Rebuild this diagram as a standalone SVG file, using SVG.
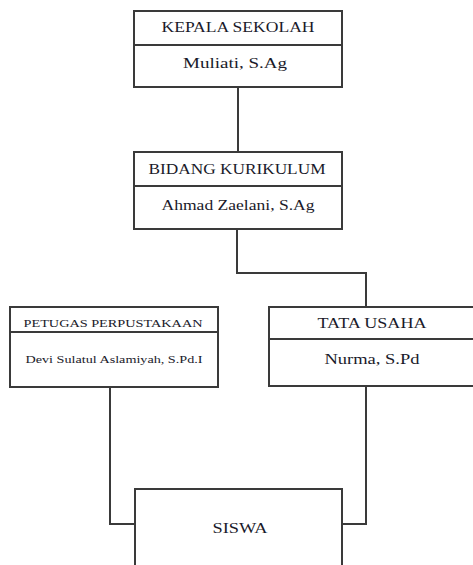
<svg xmlns="http://www.w3.org/2000/svg" width="473" height="565" viewBox="0 0 473 565">
  <style>
    .box { fill: #ffffff; stroke: #3a3a3a; stroke-width: 2; }
    .div { stroke: #3a3a3a; stroke-width: 2; }
    .wire { fill: none; stroke: #3a3a3a; stroke-width: 2; }
    text { font-family: "Liberation Serif", "Times New Roman", serif; fill: #1a1a2a; text-anchor: middle; }
    .t { font-size: 15px; }
    .s { font-size: 11px; }
  </style>
  <rect width="473" height="565" fill="#ffffff"/>

  <!-- connectors -->
  <g id="connectors">
    <line class="wire" x1="238" y1="87" x2="238" y2="152"/>
    <polyline class="wire" points="237,229 237,273 366,273 366,307"/>
    <polyline class="wire" points="110,387 110,524 135,524"/>
    <polyline class="wire" points="366,386 366,524 342,524"/>
  </g>

  <g id="kepala-sekolah">
    <rect class="box" x="134" y="11" width="208" height="76"/>
    <line class="div" x1="134" y1="45" x2="342" y2="45"/>
    <text class="t" x="238" y="32" textLength="153" lengthAdjust="spacingAndGlyphs">KEPALA SEKOLAH</text>
    <text class="t" x="235" y="68" textLength="104" lengthAdjust="spacingAndGlyphs">Muliati, S.Ag</text>
  </g>

  <g id="bidang-kurikulum">
    <rect class="box" x="134" y="152" width="208" height="77"/>
    <line class="div" x1="134" y1="186" x2="342" y2="186"/>
    <text class="t" x="237" y="174" textLength="177" lengthAdjust="spacingAndGlyphs">BIDANG KURIKULUM</text>
    <text class="t" x="238" y="210" textLength="153" lengthAdjust="spacingAndGlyphs">Ahmad Zaelani, S.Ag</text>
  </g>

  <g id="petugas-perpustakaan">
    <rect class="box" x="10" y="307" width="208" height="80"/>
    <line class="div" x1="10" y1="332" x2="218" y2="332"/>
    <text class="s" x="113" y="327" textLength="179" lengthAdjust="spacingAndGlyphs">PETUGAS PERPUSTAKAAN</text>
    <text class="s" x="114" y="363" textLength="177" lengthAdjust="spacingAndGlyphs">Devi Sulatul Aslamiyah, S.Pd.I</text>
  </g>

  <g id="tata-usaha">
    <rect class="box" x="269" y="307" width="206" height="79"/>
    <line class="div" x1="269" y1="339" x2="475" y2="339"/>
    <text class="t" x="372" y="328" textLength="109" lengthAdjust="spacingAndGlyphs">TATA USAHA</text>
    <text class="t" x="372" y="364" textLength="95" lengthAdjust="spacingAndGlyphs">Nurma, S.Pd</text>
  </g>

  <g id="siswa">
    <rect class="box" x="135" y="489" width="207" height="90"/>
    <text class="t" x="240" y="533" textLength="55" lengthAdjust="spacingAndGlyphs">SISWA</text>
  </g>
</svg>
